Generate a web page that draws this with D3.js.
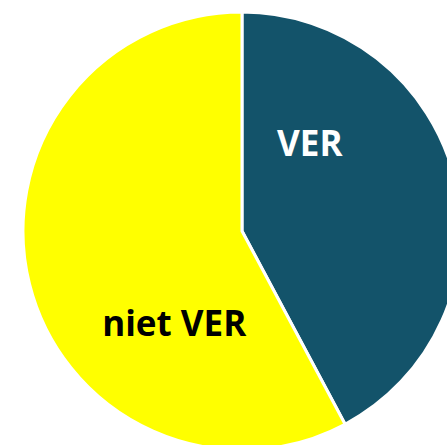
<!DOCTYPE html>
<html><head><meta charset="utf-8">
<script src="https://cdn.jsdelivr.net/npm/d3@7"></script>
<style>html,body{margin:0;padding:0;background:#fff;overflow:hidden}</style>
</head><body>
<svg id="chart" width="447" height="445"></svg>
<script>
const categories = ["VER", "niet VER"];
const values = [42.2, 57.8];
const colors = ["#13536A", "#FFFF00"];
const labelColors = ["#FFFFFF", "#000000"];

const svg = d3.select("#chart");
const cx = 242, cy = 231, r = 219;
const g = svg.append("g").attr("transform", `translate(${cx},${cy})`);
const pie = d3.pie().sort(null).value(d => d.v);
const data = pie(categories.map((c, i) => ({c, v: values[i], i})));
const arc = d3.arc().innerRadius(0).outerRadius(r);
g.selectAll("path").data(data).join("path")
  .attr("d", arc)
  .attr("fill", d => colors[d.data.i])
  .attr("stroke", "#fff").attr("stroke-width", 3).attr("stroke-linejoin", "miter");

// label placed at ~0.51r, rotated back from the slice's mid angle
const labelR = r * 0.515, rot = 39 * Math.PI / 180;
function labelPos(d) {
  const a = (d.startAngle + d.endAngle) / 2 - rot;
  return [labelR * Math.sin(a), -labelR * Math.cos(a)];
}
g.selectAll("text").data(data).join("text")
  .attr("x", d => labelPos(d)[0])
  .attr("y", d => labelPos(d)[1])
  .attr("dy", "0.43em")
  .attr("text-anchor", "middle")
  .attr("font-family", "Open Sans, sans-serif")
  .attr("font-weight", "bold")
  .attr("font-size", 35)
  .attr("fill", d => labelColors[d.data.i])
  .text(d => d.data.c);
</script>
</body></html>
